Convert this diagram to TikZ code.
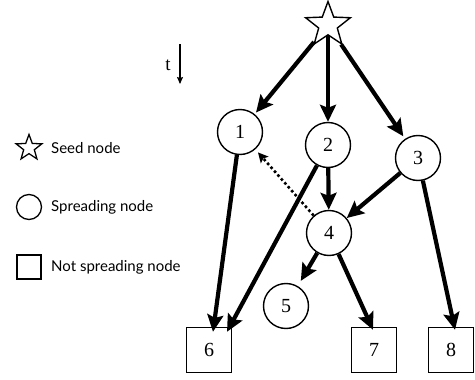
\documentclass[tikz,border=0pt]{standalone}
\usepackage{fontspec}
\setmainfont{Liberation Serif}
\newfontfamily\legfont{Lato}
\usetikzlibrary{shapes.geometric,arrows.meta}
\begin{document}
\begin{tikzpicture}[x=1pt,y=-1pt,
  circ/.style={circle,draw,line width=1.4pt,minimum size=45pt,inner sep=0pt,font=\fontsize{20}{20}\selectfont},
  sq/.style={rectangle,draw,line width=1.4pt,minimum size=45pt,inner sep=0pt,font=\fontsize{20}{20}\selectfont},
  seed/.style={star,star points=5,star point ratio=2.4,draw,line width=1.4pt,minimum size=47pt,inner sep=0pt},
  big/.style={line width=4.2pt,-{Stealth[length=17pt,width=16pt,inset=3pt]}},
  dot/.style={line width=2.6pt,dash pattern=on 2.6pt off 2.6pt,-{Stealth[length=10pt,width=10pt,inset=2pt]}},
  leg/.style={anchor=west,inner sep=0pt,font=\legfont\fontsize{15}{15}\selectfont},
  legsym/.style={draw,line width=1.3pt,inner sep=0pt}
  ]
\useasboundingbox (0,0) rectangle (475,380);
% legend
\node[legsym,star,star points=5,star point ratio=2.4,minimum size=27pt] (ls) at (29,148) {};
\node[leg] (lst) at (51,148) {Seed node};
\node[legsym,circle,minimum size=25pt] (lc) at (29,207) {};
\node[leg] (lct) at (51,207) {Spreading node};
\node[legsym,rectangle,minimum size=24pt] (lq) at (29,267) {};
\node[leg] (lqt) at (51,267) {Not spreading node};
% time arrow
\node[font=\fontsize{19}{19}\selectfont,inner sep=0pt] (t) at (168,65) {t};
\coordinate (ta) at (180,44);
\coordinate (tb) at (180,84);
\draw[line width=1.1pt,-{Stealth[length=7pt,width=6pt,inset=1pt]}] (ta) -- (tb);
% nodes
\node[seed] (s) at (328,25) {};
\node[circ] (n1) at (240,132) {1};
\node[circ] (n2) at (328,145) {2};
\node[circ] (n3) at (418,158) {3};
\node[circ] (n4) at (329,233) {4};
\node[circ] (n5) at (286,306) {5};
\node[sq] (n6) at (209,350) {6};
\node[sq] (n7) at (374,350) {7};
\node[sq] (n8) at (451,350) {8};
% edges
\draw[big,shorten >=2pt] (s) -- (n1);
\draw[big] (s) -- (n2);
\draw[big,shorten >=3pt] (s) -- (n3);
\draw[big] (n1) -- ([xshift=4pt,yshift=-5pt]n6.north);
\draw[big] (n2) -- ([xshift=18pt,yshift=-5pt]n6.north);
\draw[big] (n2) -- (n4);
\draw[big] (n3) -- (n4);
\draw[big] (n3) -- ([xshift=4pt,yshift=-3pt]n8.north);
\draw[big,shorten >=6pt] (n4) -- (n5);
\draw[big] (n4) -- ([xshift=-1pt,yshift=-3pt]n7.north);
\draw[dot,shorten >=4pt] (n4) -- (n1);
\end{tikzpicture}
\end{document}
